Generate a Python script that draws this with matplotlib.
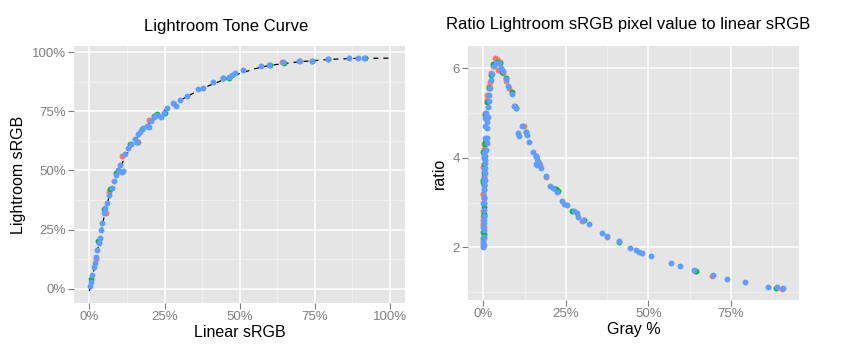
import numpy as np
import matplotlib.pyplot as plt
from matplotlib.ticker import FuncFormatter

plt.rcParams['font.family'] = ['Liberation Sans', 'DejaVu Sans']

# left panel: linear sRGB -> Lightroom sRGB (blue channel, drawn on top)
lin_b = [0.002, 0.006, 0.01, 0.014, 0.019, 0.023, 0.027, 0.032, 0.035, 0.039, 0.043, 0.05,
         0.053, 0.06, 0.065, 0.074, 0.082, 0.088, 0.094, 0.102, 0.108, 0.111, 0.12, 0.13,
         0.139, 0.152, 0.157, 0.163, 0.169, 0.177, 0.191, 0.2, 0.204, 0.215, 0.224, 0.238,
         0.249, 0.257, 0.279, 0.288, 0.302, 0.324, 0.361, 0.379, 0.41, 0.446, 0.466, 0.473,
         0.484, 0.51, 0.57, 0.599, 0.643, 0.698, 0.742, 0.795, 0.865, 0.895, 0.915]
lr_b = [0.011, 0.03, 0.058, 0.093, 0.107, 0.135, 0.164, 0.192, 0.213, 0.248, 0.276, 0.319,
        0.34, 0.364, 0.396, 0.425, 0.456, 0.481, 0.502, 0.523, 0.495, 0.499, 0.568, 0.597,
        0.612, 0.632, 0.622, 0.653, 0.664, 0.678, 0.688, 0.685, 0.711, 0.728, 0.735, 0.728,
        0.742, 0.763, 0.784, 0.773, 0.798, 0.815, 0.845, 0.85, 0.876, 0.893, 0.894, 0.904,
        0.914, 0.925, 0.944, 0.946, 0.958, 0.963, 0.963, 0.972, 0.976, 0.976, 0.976]
lin_r = [0.022, 0.055, 0.065, 0.11, 0.163, 0.2, 0.64, 0.7]
lr_r = [0.125, 0.32, 0.41, 0.56, 0.62, 0.715, 0.96, 0.963]
lin_g = [0.006, 0.03, 0.05, 0.07, 0.09, 0.135, 0.16, 0.175, 0.215, 0.225, 0.25, 0.445,
         0.465, 0.6, 0.647, 0.74, 0.795, 0.917]
lr_g = [0.04, 0.2, 0.335, 0.42, 0.49, 0.61, 0.62, 0.675, 0.73, 0.737, 0.745, 0.892,
        0.89, 0.946, 0.955, 0.962, 0.972, 0.976]

# dashed tone curve
curve_x = [0, 0.01, 0.02, 0.03, 0.04, 0.05, 0.06, 0.08, 0.1, 0.12, 0.15, 0.2, 0.25, 0.3,
           0.35, 0.4, 0.45, 0.5, 0.55, 0.6, 0.7, 0.8, 0.9, 1.0]
curve_y = [-0.01, 0.05, 0.11, 0.18, 0.25, 0.31, 0.365, 0.44, 0.505, 0.56, 0.625, 0.70, 0.755,
           0.795, 0.83, 0.86, 0.885, 0.91, 0.93, 0.945, 0.96, 0.97, 0.975, 0.975]

# right panel: gray % vs ratio
gray_b = [0, 0, 0.001, 0.001, 0.002, 0.002, 0.001, 0.003, 0.002, 0.003, 0.001, 0.004,
          0.004, 0.005, 0.005, 0.006, 0.008, 0.01, 0.01, 0.011, 0.012, 0.013, 0.015, 0.017,
          0.018, 0.02, 0.023, 0.027, 0.031, 0.038, 0.046, 0.054, 0.061, 0.069, 0.076, 0.086,
          0.094, 0.099,
          0.106, 0.108, 0.116, 0.129, 0.132, 0.138, 0.149, 0.159, 0.162, 0.16, 0.164, 0.169,
          0.175, 0.189, 0.203, 0.212, 0.222, 0.237, 0.244, 0.253, 0.275, 0.283, 0.288, 0.303,
          0.32, 0.36, 0.374, 0.41, 0.444, 0.463, 0.472, 0.482, 0.508, 0.57, 0.596, 0.638,
          0.695, 0.738, 0.794, 0.862, 0.889, 0.909,
          0.0, 0.001, 0.0, 0.001, 0.002, 0.001, 0.001, 0.002, 0.002, 0.003,
          0.004, 0.005, 0.006, 0.003, 0.004, 0.007, 0.0, 0.002]
ratio_b = [2.01, 2.13, 2.24, 2.39, 2.54, 2.69, 2.83, 2.98, 3.13, 3.28, 3.39, 3.5,
           3.65, 3.77, 3.88, 4.03, 4.18, 4.32, 4.44, 4.66, 4.81, 4.92, 5.14, 5.26,
           5.4, 5.55, 5.74, 5.87, 6.04, 6.11, 6.11, 6.0, 5.93, 5.75, 5.61, 5.42,
           5.16, 5.11,
           4.55, 4.49, 4.71, 4.58, 4.5, 4.36, 4.14, 4.03, 3.97, 3.86, 3.84, 3.89,
           3.77, 3.6, 3.38, 3.33, 3.24, 3.04, 2.97, 2.95, 2.8, 2.76, 2.68, 2.61,
           2.52, 2.33, 2.26, 2.13, 1.99, 1.93, 1.9, 1.87, 1.81, 1.65, 1.59, 1.49,
           1.37, 1.3, 1.23, 1.11, 1.11, 1.08,
           2.1, 2.2, 2.45, 2.6, 3.1, 3.3, 3.55, 3.7, 4.0, 4.1,
           4.45, 4.7, 4.9, 3.45, 3.95, 5.0, 3.0, 2.05]
gray_r = [0.0, 0.0, 0.001, 0.0, -0.001, 0.0, 0.001, 0.0, -0.001, 0.001, 0.001, 0.0, 0.001,
          0.001, 0.002, 0.003, 0.005, 0.006, 0.01, 0.012, 0.016, 0.02, 0.022, 0.028, 0.035,
          0.04, 0.043, 0.05, 0.06, 0.07, 0.078, 0.095, 0.122, 0.162, 0.171, 0.19, 0.30,
          0.375, 0.64, 0.694, 0.905, 0.002, 0.003, 0.001, 0.0]
ratio_r = [2.05, 2.5, 2.45, 2.6, 2.55, 2.8, 3.0, 3.2, 3.2, 3.4, 3.6, 3.8, 4.0,
           4.1, 4.2, 4.3, 4.95, 5.0, 5.3, 5.4, 5.6, 5.7, 5.9, 6.05, 6.22,
           6.2, 5.97, 6.15, 5.9, 5.72, 5.55, 5.15, 4.7, 3.85, 3.83, 3.58, 2.58,
           2.23, 1.48, 1.35, 1.07, 3.55, 4.05, 3.1, 2.7]
gray_g = [0.0, 0.001, 0.0, 0.001, 0.002, 0.0, 0.002, 0.002, 0.0, 0.004, 0.005, 0.006,
          0.012, 0.018, 0.024, 0.03, 0.04, 0.051, 0.058, 0.069, 0.088, 0.1, 0.13, 0.16,
          0.167, 0.22, 0.225, 0.268, 0.305, 0.41, 0.645, 0.888, 0.003, -0.001, 0.002]
ratio_g = [2.2, 2.3, 2.35, 2.7, 2.9, 3.5, 3.4, 3.85, 4.12, 4.3, 4.35, 4.95,
           5.25, 5.55, 5.85, 6.1, 6.15, 6.12, 5.92, 5.78, 5.48, 5.12, 4.57, 4.05,
           3.9, 3.3, 3.25, 2.82, 2.62, 2.12, 1.47, 1.1, 3.65, 3.45, 2.75]

red, green, blue = '#F8766D', '#00BA38', '#619CFF'
pct = FuncFormatter(lambda v, p: '%d%%' % round(v * 100))


def gg_style(ax):
    ax.set_facecolor('#E5E5E5')
    for s in ax.spines.values():
        s.set_visible(False)
    ax.grid(True, which='major', color='white', lw=1.1)
    ax.grid(True, which='minor', color='#F2F2F2', lw=0.6)
    ax.set_axisbelow(True)
    ax.tick_params(which='major', colors='#7F7F7F', length=4, width=0.8, labelsize=9.5, pad=2)
    ax.tick_params(which='minor', length=0)


fig = plt.figure(figsize=(8.42, 3.56), dpi=100)

ax1 = fig.add_axes([0.0879, 0.1489, 0.3931, 0.7219])
gg_style(ax1)
ax1.plot(curve_x, curve_y, color='black', lw=0.9, ls=(0, (4, 4)), zorder=2)
ax1.scatter(lin_r, lr_r, s=18, color=red, lw=0, zorder=3)
ax1.scatter(lin_g, lr_g, s=18, color=green, lw=0, zorder=3)
ax1.scatter(lin_b, lr_b, s=18, color=blue, lw=0, zorder=4)
ax1.set_xlim(-0.051, 1.05)
ax1.set_ylim(-0.0605, 1.0266)
ax1.set_xticks([0, 0.25, 0.5, 0.75, 1])
ax1.set_yticks([0, 0.25, 0.5, 0.75, 1])
ax1.set_xticks([0.125, 0.375, 0.625, 0.875], minor=True)
ax1.set_yticks([0.125, 0.375, 0.625, 0.875], minor=True)
ax1.xaxis.set_major_formatter(pct)
ax1.yaxis.set_major_formatter(pct)
ax1.set_xlabel('Linear sRGB', fontsize=11.5, labelpad=1)
ax1.set_ylabel('Lightroom sRGB', fontsize=11.5, labelpad=4)
fig.text(226 / 842, 1 - 26 / 356, 'Lightroom Tone Curve', ha='center', va='center', fontsize=12)

ax2 = fig.add_axes([0.5562, 0.1573, 0.3928, 0.7135])
gg_style(ax2)
ax2.scatter(gray_r, ratio_r, s=18, color=red, lw=0, zorder=3)
ax2.scatter(gray_g, ratio_g, s=18, color=green, lw=0, zorder=3)
ax2.scatter(gray_b, ratio_b, s=18, color=blue, lw=0, zorder=4)
ax2.set_xlim(-0.0455, 0.9567)
ax2.set_ylim(0.822, 6.498)
ax2.set_xticks([0, 0.25, 0.5, 0.75])
ax2.set_yticks([2, 4, 6])
ax2.set_xticks([0.125, 0.375, 0.625, 0.875], minor=True)
ax2.set_yticks([1, 3, 5], minor=True)
ax2.xaxis.set_major_formatter(pct)
ax2.set_xlabel('Gray %', fontsize=11.5, labelpad=1)
ax2.set_ylabel('ratio', fontsize=11.5, labelpad=4)
fig.text(628 / 842, 1 - 25 / 356, 'Ratio Lightroom sRGB pixel value to linear sRGB',
         ha='center', va='center', fontsize=12)

plt.savefig('out.png', dpi=100)
